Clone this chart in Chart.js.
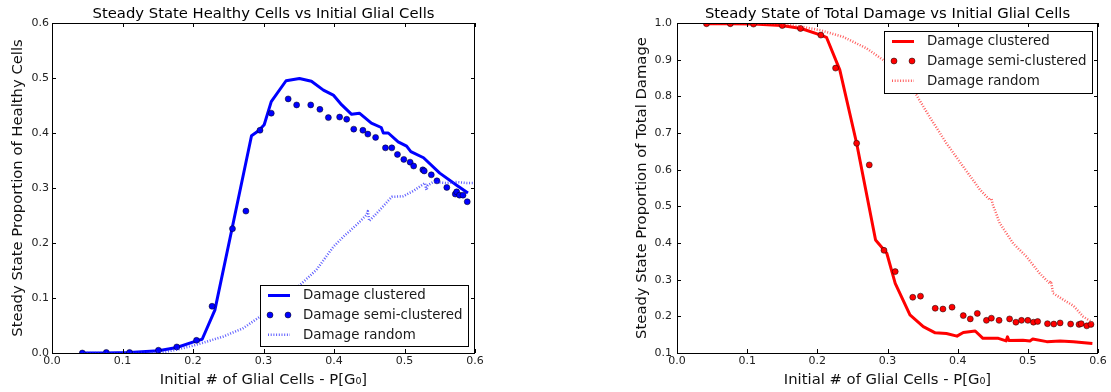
<!DOCTYPE html>
<html><head><meta charset="utf-8">
<script src="https://cdn.jsdelivr.net/npm/chart.js@4.4.1/dist/chart.umd.min.js"></script>
<style>
html,body{margin:0;padding:0;background:#fff;}
#wrap{position:relative;width:1111px;height:392px;overflow:hidden;}
.c{position:absolute;top:0;}
</style></head><body>
<div id="wrap">
<div class="c" style="left:0;width:555px;height:392px"><canvas id="left" width="555" height="392"></canvas></div>
<div class="c" style="left:555px;width:556px;height:392px"><canvas id="right" width="556" height="392"></canvas></div>
</div>
<script>
// ---------------- data ----------------
const seriesLabels = ['Damage clustered', 'Damage semi-clustered', 'Damage random'];
const xTicks = [0, 0.1, 0.2, 0.3, 0.4, 0.5, 0.6];
const healthyTicks = [0, 0.1, 0.2, 0.3, 0.4, 0.5, 0.6];
const damageTicks = [0.1, 0.2, 0.3, 0.4, 0.5, 0.6, 0.7, 0.8, 0.9, 1.0];

// Left: healthy cells
const healthyClusteredX = [0.042,0.077,0.110,0.151,0.177,0.205,0.213,0.231,0.256,0.283,0.293,0.301,0.311,0.332,0.351,0.368,0.385,0.399,0.411,0.425,0.436,0.453,0.467,0.470,0.477,0.491,0.503,0.509,0.527,0.550,0.574,0.590];
const healthyClusteredY = [0.000,0.000,0.001,0.004,0.010,0.022,0.025,0.078,0.230,0.395,0.404,0.415,0.457,0.495,0.499,0.494,0.478,0.469,0.451,0.434,0.436,0.418,0.410,0.400,0.400,0.384,0.376,0.366,0.355,0.327,0.305,0.291];

const healthySemiX = [0.043,0.077,0.110,0.151,0.177,0.205,0.227,0.256,0.275,0.295,0.311,0.335,0.347,0.367,0.380,0.392,0.408,0.418,0.428,0.441,0.448,0.459,0.473,0.482,0.490,0.499,0.508,0.513,0.526,0.528,0.538,0.546,0.560,0.572,0.574,0.578,0.583,0.589];
const healthySemiY = [0.000,0.001,0.001,0.005,0.011,0.023,0.085,0.226,0.258,0.405,0.436,0.462,0.451,0.451,0.443,0.428,0.429,0.425,0.407,0.405,0.398,0.392,0.373,0.373,0.361,0.352,0.347,0.340,0.333,0.331,0.324,0.313,0.301,0.289,0.293,0.287,0.287,0.275];

const healthyRandomX = [0.042,0.077,0.110,0.156,0.177,0.205,0.243,0.271,0.295,0.323,0.352,0.375,0.399,0.413,0.432,0.446,0.448,0.450,0.465,0.482,0.498,0.513,0.529,0.531,0.533,0.541,0.560,0.574,0.588,0.598];
const healthyRandomY = [0.000,0.000,0.000,0.001,0.006,0.015,0.030,0.045,0.066,0.096,0.124,0.151,0.193,0.211,0.233,0.251,0.258,0.240,0.260,0.284,0.285,0.295,0.309,0.296,0.305,0.311,0.309,0.311,0.309,0.309];

// Right: total damage
const damageClusteredX = [0.042,0.076,0.109,0.149,0.177,0.205,0.213,0.232,0.256,0.283,0.299,0.311,0.332,0.351,0.368,0.384,0.399,0.408,0.425,0.436,0.458,0.469,0.471,0.473,0.493,0.503,0.507,0.527,0.546,0.565,0.592];
const damageClusteredY = [0.998,0.998,0.997,0.993,0.985,0.967,0.961,0.872,0.672,0.408,0.372,0.290,0.204,0.172,0.155,0.153,0.146,0.156,0.160,0.140,0.140,0.133,0.144,0.134,0.135,0.133,0.138,0.131,0.133,0.131,0.126];

const damageSemiX = [0.042,0.076,0.109,0.150,0.176,0.205,0.226,0.256,0.274,0.295,0.311,0.336,0.347,0.368,0.379,0.392,0.408,0.418,0.428,0.441,0.448,0.459,0.474,0.483,0.491,0.500,0.508,0.514,0.528,0.537,0.546,0.561,0.573,0.576,0.584,0.590];
const damageSemiY = [0.998,0.998,0.997,0.993,0.985,0.967,0.877,0.672,0.613,0.380,0.322,0.252,0.255,0.222,0.220,0.225,0.202,0.193,0.208,0.189,0.195,0.189,0.193,0.184,0.189,0.189,0.184,0.186,0.180,0.179,0.182,0.179,0.178,0.180,0.174,0.178];

const damageRandomX = [0.042,0.076,0.109,0.150,0.177,0.205,0.237,0.270,0.294,0.341,0.360,0.384,0.408,0.432,0.446,0.448,0.450,0.460,0.479,0.498,0.517,0.531,0.533,0.536,0.555,0.565,0.579,0.594];
const damageRandomY = [1.000,1.000,0.999,0.997,0.990,0.980,0.962,0.931,0.899,0.804,0.744,0.672,0.608,0.545,0.517,0.522,0.505,0.454,0.399,0.363,0.317,0.290,0.296,0.263,0.240,0.229,0.199,0.181];

// ---------------- helpers ----------------
const FONT = 'DejaVu Sans';
Chart.defaults.font.family = FONT;
const toPts = (xs, ys) => xs.map((x, i) => ({x, y: ys[i]}));

function makeDatasets(color, light, cx, cy, sx, sy, rx, ry) {
  return [
    {label: seriesLabels[0], data: toPts(cx, cy), showLine: true, borderColor: color, backgroundColor: color,
     borderWidth: 3, pointRadius: 0, tension: 0, borderJoinStyle: 'round', order: 3},
    {label: seriesLabels[1], data: toPts(sx, sy), showLine: false, borderColor: '#000',
     backgroundColor: color, pointRadius: 3.0, pointBorderWidth: 0.5, order: 2},
    {label: seriesLabels[2], data: toPts(rx, ry), showLine: true, borderColor: light, backgroundColor: light,
     borderWidth: 2.5, borderDash: [1, 1.7], pointRadius: 0, tension: 0, borderJoinStyle: 'round', order: 1}
  ];
}

const mplPlugin = {
  id: 'mpl',
  afterDatasetsDraw(chart, args, opts) {
    const {ctx, chartArea: a, scales: {x, y}} = chart;
    ctx.save();
    ctx.setLineDash([]);
    ctx.strokeStyle = '#000';
    ctx.lineWidth = 1;
    ctx.beginPath();
    x.ticks.forEach(t => {
      const px = Math.round(x.getPixelForValue(t.value)) + 0.5;
      ctx.moveTo(px, a.bottom); ctx.lineTo(px, a.bottom - 4);
      ctx.moveTo(px, a.top); ctx.lineTo(px, a.top + 4);
    });
    y.ticks.forEach(t => {
      const py = Math.round(y.getPixelForValue(t.value)) + 0.5;
      ctx.moveTo(a.left, py); ctx.lineTo(a.left + 4, py);
      ctx.moveTo(a.right, py); ctx.lineTo(a.right - 4, py);
    });
    ctx.stroke();
    ctx.strokeRect(a.left + 0.5, a.top + 0.5, a.right - a.left - 1, a.bottom - a.top);

    // legend
    const w = opts.w, h = opts.h;
    const left = a.right - opts.dx - w;
    const top = opts.corner === 'lowerRight' ? a.bottom - opts.dy - h : a.top + opts.dy;
    ctx.fillStyle = '#fff';
    ctx.fillRect(left, top, w, h);
    ctx.strokeRect(left + 0.5, top + 0.5, w, h);
    const rows = [10.5, 30, 49.8];
    ctx.font = '13.4px "' + FONT + '"';
    ctx.textBaseline = 'middle';
    ctx.textAlign = 'left';
    chart.data.datasets.forEach((ds, i) => {
      const cy = top + rows[i];
      if (ds.showLine === false) {
        [left + 10, left + 28].forEach(cx => {
          ctx.beginPath();
          ctx.arc(cx, cy, ds.pointRadius, 0, Math.PI * 2);
          ctx.fillStyle = ds.backgroundColor; ctx.fill();
          ctx.lineWidth = ds.pointBorderWidth; ctx.strokeStyle = ds.borderColor; ctx.stroke();
        });
      } else {
        ctx.beginPath();
        ctx.setLineDash(ds.borderDash || []);
        ctx.lineWidth = ds.borderWidth; ctx.strokeStyle = ds.borderColor;
        ctx.moveTo(left + 8, cy); ctx.lineTo(left + 30, cy); ctx.stroke();
        ctx.setLineDash([]);
      }
      ctx.fillStyle = '#1a1a1a';
      ctx.fillText(ds.label, left + 43, cy + 0.5);
    });
    ctx.restore();
  }
};

function makeChart(id, cfg) {
  return new Chart(document.getElementById(id), {
    type: 'scatter',
    data: {datasets: cfg.datasets},
    plugins: [mplPlugin],
    options: {
      responsive: false, animation: false, devicePixelRatio: 1,
      layout: {padding: {left: 0, top: 0, right: cfg.padRight, bottom: 0}},
      plugins: {
        legend: {display: false}, tooltip: {enabled: false},
        title: {display: true, text: cfg.title, fullSize: false, color: '#000',
                font: {size: 14.8, weight: 'normal', lineHeight: '18px'}, padding: {top: 5, bottom: 0}},
        mpl: cfg.legend
      },
      scales: {
        x: {type: 'linear', min: 0, max: 0.6,
            afterBuildTicks: s => { s.ticks = xTicks.map(v => ({value: v})); },
            afterFit: s => { s.height = 39; },
            grid: {display: false, drawTicks: false}, border: {display: false},
            ticks: {padding: 2, color: '#222', font: {size: 11}, maxRotation: 0, autoSkip: false,
                    callback: v => v.toFixed(1)},
            title: {display: true, text: 'Initial # of Glial Cells - P[G\u2080]', color: '#111',
                    font: {size: 14.8, lineHeight: '18px'}, padding: {top: 0, bottom: 3}}},
        y: {type: 'linear', min: cfg.yTicks[0], max: cfg.yTicks[cfg.yTicks.length - 1],
            afterBuildTicks: s => { s.ticks = cfg.yTicks.map(v => ({value: v})); },
            afterFit: s => { s.width = cfg.yWidth; },
            grid: {display: false, drawTicks: false}, border: {display: false},
            ticks: {padding: cfg.yTickPad, color: '#222', font: {size: 11}, autoSkip: false,
                    callback: v => v.toFixed(1)},
            title: {display: true, text: cfg.yTitle, color: '#111',
                    font: {size: 14.8, lineHeight: '18px'}, padding: {top: cfg.yTitlePad, bottom: 0}}}
      }
    }
  });
}

makeChart('left', {
  title: 'Steady State Healthy Cells vs Initial Glial Cells',
  yTitle: 'Steady State Proportion of Healthy Cells',
  datasets: makeDatasets('#0000ff', 'rgba(40,40,255,0.75)', healthyClusteredX, healthyClusteredY, healthySemiX, healthySemiY, healthyRandomX, healthyRandomY),
  yTicks: healthyTicks, yWidth: 52, yTickPad: 3, yTitlePad: 9, padRight: 80,
  legend: {corner: 'lowerRight', dx: 7, dy: 7, w: 208, h: 61}
});
makeChart('right', {
  title: 'Steady State of Total Damage vs Initial Glial Cells',
  yTitle: 'Steady State Proportion of Total Damage',
  datasets: makeDatasets('#ff0000', 'rgba(255,40,40,0.75)', damageClusteredX, damageClusteredY, damageSemiX, damageSemiY, damageRandomX, damageRandomY),
  yTicks: damageTicks, yWidth: 122, yTickPad: 5, yTitlePad: 78, padRight: 13,
  legend: {corner: 'upperRight', dx: 6, dy: 8, w: 208, h: 62}
});
</script>
</body></html>
